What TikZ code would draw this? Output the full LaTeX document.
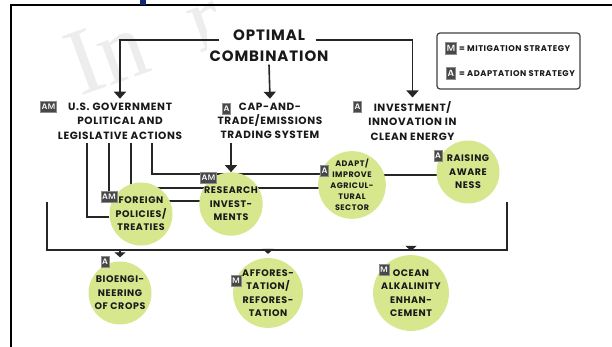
\documentclass[tikz,border=0pt]{standalone}
\usepackage{fontspec}
\newfontfamily\diagfont[LetterSpace=6]{Poppins}
\newfontfamily\markfont{Liberation Serif}
\usetikzlibrary{arrows.meta,backgrounds}
\definecolor{leaf}{RGB}{214,231,142}
\definecolor{tagfill}{RGB}{72,72,72}
\definecolor{topblue}{RGB}{20,40,110}
\begin{document}
\begin{tikzpicture}[x=1pt,y=-1pt,
    link/.style={line width=1.6pt, black!85},
    arrow/.style={link, -{Triangle[width=12pt,length=7pt]}},
    small arrow/.style={link, -{Triangle[width=11pt,length=5pt]}},
    heading/.style={align=center, inner sep=4pt, text=black!90,
      font=\diagfont\bfseries\fontsize{10.5}{14.3}\selectfont},
    bubble/.style={circle, fill=leaf, minimum size=63pt, inner sep=0pt,
      align=center, text=black!90,
      font=\diagfont\bfseries\fontsize{9.5}{13.5}\selectfont},
    tag/.style={fill=tagfill, text=white, draw=black!45, line width=0.4pt,
      inner xsep=1.2pt, inner ysep=2.6pt, font=\sffamily\bfseries\fontsize{8}{8}\selectfont},
    legend text/.style={anchor=west, inner sep=0pt, text=black!90,
      font=\diagfont\bfseries\fontsize{8.3}{9}\selectfont}]
  \useasboundingbox (0,0) rectangle (612,347);

  % Faint watermark and frame
  \node[text=black!7, font=\markfont\fontsize{95}{95}\selectfont, rotate=20,
    anchor=base west, inner sep=0pt] (mark) at (80,97) {In\ \ r};
  \draw[line width=1.3pt] (11,347) -- (11,5) -- (612,5);
  \fill[topblue] (140,0) rectangle (146,5);

  % Title
  \node[fill=white, align=center, inner sep=3pt, text=black!90,
    font=\diagfont\bfseries\fontsize{15}{21}\selectfont] (title) at (269,45.5)
    {OPTIMAL\\COMBINATION};

  % Legend
  \draw[line width=1.2pt, black!75, rounded corners=3pt] (437,33) rectangle (580,89);
  \node[tag, inner ysep=3pt, font=\sffamily\bfseries\fontsize{9}{9}\selectfont] (mtag) at (451,48.5) {M};
  \node[tag, inner ysep=3pt, font=\sffamily\bfseries\fontsize{9}{9}\selectfont] (atag) at (451,73.5) {A};
  \node[legend text] (mitig) at (459,49) {= MITIGATION STRATEGY};
  \node[legend text] (adapt) at (459,74) {= ADAPTATION STRATEGY};

  % Top row of actions
  \node[heading] (govt) at (120,121) {U.S. GOVERNMENT\\POLITICAL AND\\LEGISLATIVE ACTIONS};
  \node[heading] (captrade) at (270,121) {CAP-AND-\\TRADE/EMISSIONS\\TRADING SYSTEM};
  \node[heading] (invest) at (412.5,121) {INVESTMENT/\\INNOVATION IN\\CLEAN ENERGY};
  \node[tag] (govtag) at (48.5,107) {AM};
  \node[tag] (captag) at (226.5,108.5) {A};
  \node[tag] (invtag) at (357.5,107) {A};

  % Middle circles
  \node[bubble] (foreign) at (141,214) {FOREIGN\\POLICIES/\\TREATIES};
  \node[bubble] (research) at (231,204) {RESEARCH\\INVEST-\\MENTS};
  \node[bubble, font=\diagfont\bfseries\fontsize{8}{11.1}\selectfont] (agri) at (352,185)
    {ADAPT/\\IMPROVE\\AGRICUL-\\TURAL\\SECTOR};
  \node[bubble] (raising) at (468,172) {RAISING\\AWARE\\NESS};
  \node[tag] (foreigntag) at (109,197) {AM};
  \node[tag] (researchtag) at (208.5,178) {AM};
  \node[tag] (agritag) at (324.5,170.5) {A};
  \node[tag] (raisingtag) at (438,156) {A};

  % Bottom circles
  \node[bubble] (bio) at (120,293) {BIOENGI-\\NEERING\\OF CROPS};
  \node[bubble] (affor) at (268,293) {AFFORES-\\TATION/\\REFORES-\\TATION};
  \node[bubble] (ocean) at (411,293) {OCEAN\\ALKALINITY\\ENHAN-\\CEMENT};
  \node[tag] (biotag) at (105,262) {A};
  \node[tag] (afftag) at (236,281) {M};
  \node[tag] (oceantag) at (384,270) {M};

  % Title to top row
  \draw[arrow] ([xshift=13pt,yshift=5.5pt]title.west) -| (govt.north);
  \draw[arrow] ([xshift=-16pt,yshift=5.5pt]title.east) -| (invest.north);
  \draw[arrow] (title.south) -- (captrade.north);
  \draw[arrow] (research.north |- captrade.south) -- (research.north);

  % Drop points under the government actions
  \coordinate (drop1) at ([xshift=-33pt]govt.south);
  \coordinate (drop3) at ([xshift=11pt]govt.south);
  \coordinate (drop4) at ([xshift=32pt]govt.south);

  % Bracket over the bottom row
  \coordinate (brL) at (47,202);
  \coordinate (brR) at (507,202);
  \coordinate (brY) at (0,250);

  \begin{scope}[on background layer]
    \draw[link] (drop1) |- ([yshift=-3pt]foreign.west);
    \draw[link] (foreigntag.north |- govt.south) -- (foreigntag.north);
    \draw[link] (drop3) -- (drop3 |- foreign.center);
    \draw[link] (drop4) |- ([yshift=-3.5pt]agritag.west);
    \draw[link] (foreign.center |- 0,188) -- (agri.center |- 0,188);
    \draw[link] (foreign.center |- 0,201) -- (research.center |- 0,201);
    \draw[link] (agri.center |- 0,175) -- (raising.center |- 0,175);
  \end{scope}

  \draw[link] (brL) -- (brL |- brY) -- (brR |- brY) -- (brR);
  \foreach \c in {bio,affor,ocean}
    \draw[small arrow, shorten >=4pt] (\c.north |- brY) -- (\c.north);
\end{tikzpicture}
\end{document}
